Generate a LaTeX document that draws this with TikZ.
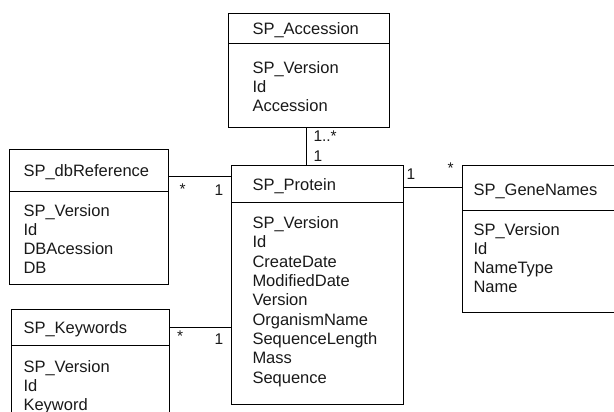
\documentclass[tikz,border=0pt]{standalone}
\usepackage{fontspec}
\setmainfont{Liberation Sans}
\begin{document}
\begin{tikzpicture}[x=1pt,y=-1pt,
  box/.style={draw, line width=1pt, inner sep=0pt, outer sep=0pt, anchor=north west},
  txt/.style={anchor=base west, inner sep=0pt, font=\fontsize{16.5}{19.3}\selectfont, text=black!90},
  mult/.style={anchor=base west, inner sep=0pt, font=\fontsize{15.5}{18}\selectfont, text=black!90},
  conn/.style={line width=1pt}]
\useasboundingbox (0,0) rectangle (614,412);
\clip (0,0) rectangle (614,412);

% class boxes
\node[box, minimum width=161,   minimum height=113.3] (acc)  at (228.3,14)   {};
\node[box, minimum width=171.3, minimum height=239]   (prot) at (231.7,165)  {};
\node[box, minimum width=159,   minimum height=134.7] (db)   at (9.3,149.3)  {};
\node[box, minimum width=158.3, minimum height=120]   (kw)   at (11,309.3)   {};
\node[box, minimum width=170,   minimum height=147.7] (gene) at (462.3,165)  {};

% title separators
\draw[conn] ([yshift=-29.3]acc.north west)  -- ([yshift=-29.3]acc.north east);
\draw[conn] ([yshift=-37]prot.north west)   -- ([yshift=-37]prot.north east);
\draw[conn] ([yshift=-42.4]db.north west)   -- ([yshift=-42.4]db.north east);
\draw[conn] ([yshift=-36.4]kw.north west)   -- ([yshift=-36.4]kw.north east);
\draw[conn] ([yshift=-45]gene.north west)   -- ([yshift=-45]gene.north east);

% titles
\node[txt] (acc-t)  at (252.3,34.3)  {SP\_Accession};
\node[txt] (prot-t) at (252.3,190)   {SP\_Protein};
\node[txt] (db-t)   at (23.3,176.7)  {SP\_dbReference};
\node[txt] (kw-t)   at (23.3,333.3)  {SP\_Keywords};
\node[txt] (gene-t) at (473.3,195.7) {SP\_GeneNames};

% attributes
\foreach \t [count=\i] in {SP\_Version, Id, Accession}
  \node[txt] (acc-a\i) at (252.3,{73.3+19.2*(\i-1)}) {\t};
\foreach \t [count=\i] in {SP\_Version, Id, CreateDate, ModifiedDate, Version,
    OrganismName, SequenceLength, Mass, Sequence}
  \node[txt] (prot-a\i) at (252.3,{228.5+19.35*(\i-1)}) {\t};
\foreach \t [count=\i] in {SP\_Version, Id, DBAcession, DB}
  \node[txt] (db-a\i) at (23.3,{216.7+19*(\i-1)}) {\t};
\foreach \t [count=\i] in {SP\_Version, Id, Keyword}
  \node[txt] (kw-a\i) at (23.3,{372.3+19*(\i-1)}) {\t};
\foreach \t [count=\i] in {SP\_Version, Id, NameType, Name}
  \node[txt] (gene-a\i) at (473.3,{235+19.2*(\i-1)}) {\t};

% associations
\draw[conn] ([xshift=-2]acc.south) coordinate (c1) -- (c1 |- prot.north);
\draw[conn] ([yshift=-27.4]db.north east) coordinate (c2) -- (c2 -| prot.west);
\draw[conn] ([yshift=-18.4]kw.north east) coordinate (c3) -- (c3 -| prot.west);
\draw[conn] ([yshift=-22.7]prot.north east) coordinate (c4) -- (c4 -| gene.west);

% multiplicities
\node[mult] (m1) at (313.3,141.7) {1..*};
\node[mult] (m2) at (313.3,161.7) {1};
\node[mult] (m3) at (179.5,194)   {*};
\node[mult] (m4) at (214.5,195)   {1};
\node[mult] (m5) at (177,341)     {*};
\node[mult] (m6) at (214.5,344.3) {1};
\node[mult] (m7) at (406.5,179)   {1};
\node[mult] (m8) at (447.5,174)   {*};
\end{tikzpicture}
\end{document}
